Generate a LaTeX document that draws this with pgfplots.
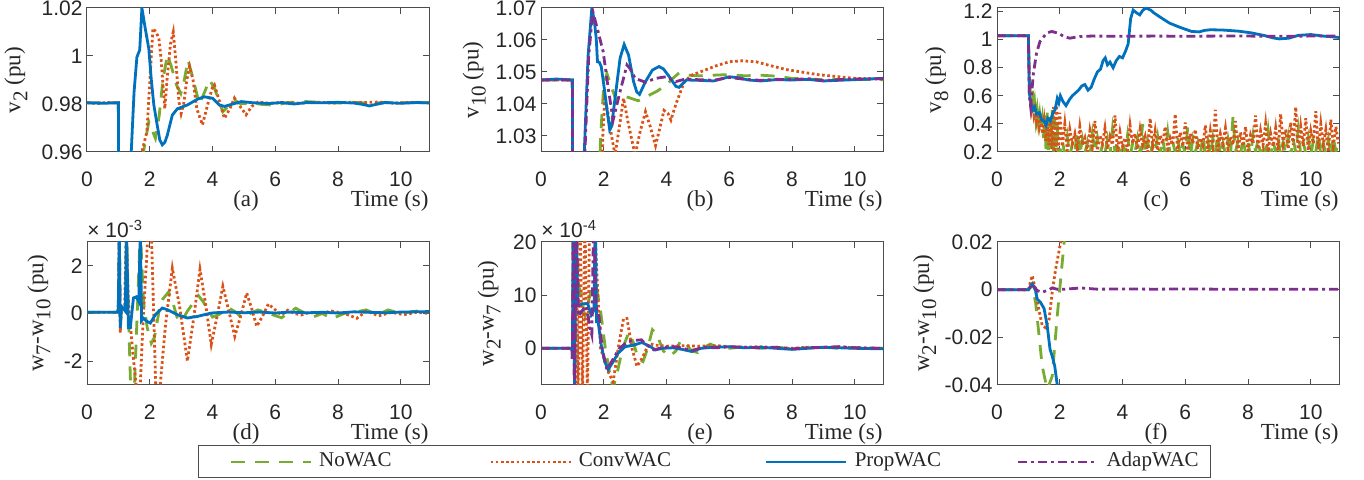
\documentclass[border=0pt]{standalone}
\usepackage{fontspec}
\setmainfont{Liberation Serif}
\newfontfamily\ticksf{Liberation Sans}
\usepackage{pgfplots}
\pgfplotsset{compat=1.18}

\definecolor{mblue}{rgb}{0,0.447,0.741}
\definecolor{morange}{rgb}{0.85,0.325,0.098}
\definecolor{mgreen}{rgb}{0.466,0.674,0.188}
\definecolor{mpurple}{rgb}{0.494,0.184,0.556}
\definecolor{axgray}{rgb}{0.15,0.15,0.15}

\newcommand{\tickfont}{\ticksf\fontsize{10.5}{12}\selectfont}
\newcommand{\labfont}{\fontsize{11.5}{13}\selectfont}
\newcommand{\sub}[1]{\raisebox{-3.5pt}{\fontsize{10.5}{11}\selectfont #1}}

\pgfplotsset{
  panel/.style={
    scale only axis, width=171pt, height=72pt,
    xmin=0, xmax=10.9, xtick={0,2,...,10},
    axis line style={black!70, line width=0.5pt},
    tick style={black!70, line width=0.5pt},
    major tick length=3pt, tick align=inside,
    scaled ticks=false, clip mode=individual,
    tick label style={font=\tickfont, text=axgray, /pgf/number format/assume math mode=true},
    xticklabel style={anchor=base, yshift=-17.5pt, inner sep=0pt},
    yticklabel style={anchor=east, inner sep=0pt, xshift=-2pt,
      /pgf/number format/fixed, /pgf/number format/precision=2},
    label style={font=\labfont, text=axgray},
    xlabel={Time (s)},
    xlabel style={at={(axis description cs:1,0)}, anchor=base east, yshift=-27.5pt, inner sep=0pt},
  },
  ylpos/.style={ylabel style={at={(axis description cs:#1,0.5)}, anchor=center, inner sep=0pt}},
  nowac/.style={mgreen, line width=1.4pt, dash pattern=on 7pt off 5pt},
  convwac/.style={morange, line width=1.4pt, dash pattern=on 1.3pt off 1.3pt},
  propwac/.style={mblue, line width=1.4pt},
  adapwac/.style={mpurple, line width=1.4pt, dash pattern=on 4.5pt off 2pt on 1.5pt off 2pt},
}
\newcommand{\sublabel}[1]{\node[font=\labfont, text=axgray, anchor=base, inner sep=0pt, yshift=-27.5pt] at (axis description cs:0.465,0) {#1};}
\newcommand{\scalelabel}[1]{\node[font=\tickfont, text=axgray, anchor=base west, inner sep=0pt, yshift=2pt] at (axis description cs:0,1) {× 10\textsuperscript{#1}};}

\begin{document}
\begin{tikzpicture}
\useasboundingbox (0,0) rectangle (682pt,240pt);

% (a)
\begin{axis}[panel, at={(43.5pt,164pt)}, anchor=south west,
  ymin=0.96, ymax=1.02, ytick={0.96,0.98,1,1.02},
  ylabel={v\sub{2} (pu)}, ylpos=-0.208]
\addplot[nowac] coordinates {(0,0.9805)(1.0,0.9805)(1.01,0.93)(1.7,0.93)(1.8,0.96)(1.97,0.9726)(2.08,0.969)(2.18,0.9657)(2.3,0.975)(2.42,0.99)(2.56,1.0004)(2.68,0.996)(2.85,0.988)(2.99,0.9844)(3.1,0.99)(3.22,0.9983)(3.35,0.992)(3.58,0.980)(3.75,0.985)(3.9,0.990)(4.05,0.987)(4.33,0.9768)(4.5,0.979)(4.7,0.9817)(4.9,0.980)(5.2,0.9805)(5.6,0.9798)(6.0,0.9795)(6.4,0.9806)(7.0,0.9810)(7.5,0.9806)(8.0,0.9804)(8.5,0.9807)(9.0,0.9803)(9.5,0.9806)(10,0.9805)(10.9,0.9805)};
\addplot[convwac] coordinates {(0,0.9805)(0.3,0.9802)(0.6,0.9806)(1.0,0.9805)(1.01,0.93)(1.6,0.93)(1.75,0.96)(1.91,0.9685)(2.02,0.9935)(2.1,1.0115)(2.2,1.010)(2.29,1.0074)(2.36,0.999)(2.43,0.9865)(2.48,0.978)(2.55,0.99)(2.66,1.005)(2.75,1.010)(2.83,0.998)(2.93,0.981)(3.0,0.976)(3.08,0.98)(3.18,0.99)(3.27,0.9956)(3.38,0.99)(3.5,0.978)(3.68,0.9713)(3.85,0.98)(4.0,0.987)(4.06,0.988)(4.2,0.982)(4.38,0.974)(4.55,0.978)(4.7,0.9825)(4.88,0.979)(5.07,0.9755)(5.25,0.979)(5.45,0.9808)(5.8,0.9803)(6.3,0.9806)(6.8,0.9803)(7.3,0.9808)(7.8,0.9804)(8.3,0.9807)(8.8,0.9806)(9.3,0.9808)(9.8,0.9803)(10.3,0.9807)(10.9,0.9804)};
\addplot[propwac] coordinates {(0,0.9805)(0.5,0.9803)(1.0,0.9805)(1.01,0.93)(1.3,0.93)(1.41,0.96)(1.5,0.985)(1.59,0.9995)(1.68,1.0025)(1.75,1.02)(1.85,1.012)(1.97,1.003)(2.05,0.99)(2.13,0.9796)(2.24,0.971)(2.32,0.965)(2.4,0.963)(2.48,0.964)(2.56,0.967)(2.72,0.9754)(2.88,0.978)(3.2,0.9796)(3.52,0.982)(3.74,0.983)(4.0,0.9824)(4.22,0.9796)(4.38,0.979)(4.65,0.980)(4.92,0.981)(5.3,0.9805)(5.8,0.9802)(6.2,0.9806)(6.6,0.98)(7.0,0.9806)(7.5,0.9805)(8.0,0.9807)(8.5,0.9804)(8.8,0.9798)(9.0,0.9792)(9.2,0.9798)(9.5,0.9806)(10,0.9803)(10.5,0.9806)(10.9,0.9805)};
\sublabel{(a)}
\end{axis}

% (b)
\begin{axis}[panel, at={(270.5pt,164pt)}, anchor=south west,
  ymin=1.025, ymax=1.07, ytick={1.03,1.04,1.05,1.06,1.07},
  ylabel={v\sub{10} (pu)}, ylpos=-0.195]
\addplot[nowac] coordinates {(0,1.0475)(1.0,1.0475)(1.01,1.0)(1.8,1.0)(1.9,1.03)(2.0,1.046)(2.1,1.0495)(2.22,1.046)(2.4,1.041)(2.6,1.0425)(2.8,1.042)(3.1,1.041)(3.4,1.0425)(3.7,1.044)(4.0,1.046)(4.2,1.048)(4.4,1.0497)(4.7,1.049)(5.0,1.0488)(5.5,1.049)(6.0,1.0492)(6.5,1.0488)(7.0,1.049)(7.5,1.0487)(8.0,1.048)(8.5,1.0478)(9,1.0476)(10,1.0477)(10.9,1.0476)};
\addplot[convwac] coordinates {(0,1.0475)(1.0,1.0475)(1.01,1.0)(1.9,1.0)(1.97,1.03)(2.03,1.0418)(2.12,1.038)(2.25,1.03)(2.36,1.024)(2.5,1.033)(2.63,1.0418)(2.78,1.034)(3.0,1.024)(3.15,1.031)(3.33,1.0376)(3.48,1.033)(3.65,1.027)(3.8,1.033)(3.92,1.038)(4.05,1.037)(4.14,1.035)(4.3,1.04)(4.57,1.047)(4.8,1.049)(5.2,1.0505)(5.6,1.052)(6.0,1.0532)(6.4,1.0535)(6.85,1.0532)(7.3,1.052)(7.8,1.0508)(8.3,1.050)(8.8,1.0492)(9.5,1.0485)(10,1.048)(10.9,1.0478)};
\addplot[propwac] coordinates {(0,1.0475)(0.5,1.0478)(1.0,1.0475)(1.01,1.0)(1.3,1.0)(1.38,1.025)(1.5,1.055)(1.62,1.07)(1.7,1.066)(1.76,1.0605)(1.8,1.0532)(1.86,1.053)(1.92,1.0517)(2.03,1.0439)(2.14,1.0355)(2.19,1.0319)(2.25,1.033)(2.36,1.0418)(2.52,1.0543)(2.65,1.0586)(2.79,1.0553)(2.95,1.047)(3.05,1.0438)(3.14,1.043)(3.33,1.047)(3.55,1.0506)(3.76,1.0517)(3.9,1.051)(4.09,1.0485)(4.3,1.0455)(4.4,1.0452)(4.63,1.0475)(5.0,1.0474)(5.5,1.0472)(6.0,1.0485)(6.3,1.0482)(6.6,1.0475)(7.0,1.0472)(7.5,1.0476)(8.0,1.0475)(8.5,1.0477)(9.0,1.0472)(9.5,1.0474)(10,1.0476)(10.9,1.048)};
\addplot[adapwac] coordinates {(0,1.0475)(1.0,1.0475)(1.01,1.0)(1.32,1.0)(1.4,1.025)(1.52,1.055)(1.65,1.0689)(1.82,1.0626)(1.98,1.0564)(2.14,1.045)(2.3,1.035)(2.52,1.0439)(2.74,1.0522)(2.84,1.051)(3.0,1.048)(3.33,1.0468)(3.65,1.048)(3.98,1.0485)(4.3,1.047)(4.6,1.0478)(5,1.0476)(5.5,1.0474)(6,1.0483)(6.5,1.0477)(7,1.0474)(7.5,1.0477)(8,1.0476)(8.5,1.0479)(9,1.0473)(9.5,1.0476)(10,1.0478)(10.9,1.0479)};
\sublabel{(b)}
\end{axis}

% (c)
\begin{axis}[panel, at={(498.5pt,164pt)}, anchor=south west,
  ymin=0.2, ymax=1.225, ytick={0.2,0.4,0.6,0.8,1,1.2},
  ylabel={v\sub{8} (pu)}, ylpos=-0.176]
\addplot[nowac] coordinates {(0,1.027)(1.0,1.027)(1.03,0.75)(1.06,0.6)(1.1,0.52)(1.13,0.64)(1.16,0.48)(1.2,0.55)(1.24,0.43)(1.28,0.5)(1.32,0.4)(1.36,0.47)(1.4,0.38)(1.44,0.44)(1.48,0.3)(1.52,0.46)(1.56,0.22)(1.6,0.48)(1.64,0.2)(1.68,0.45)(1.72,0.22)(1.76,0.5)(1.8,0.19)(1.84,0.44)(1.88,0.2)(1.92,0.4)(1.96,0.18)
(2.00,0.18)(2.08,0.28)(2.16,0.19)(2.24,0.31)(2.32,0.17)(2.40,0.26)(2.48,0.2)(2.56,0.35)(2.64,0.18)(2.72,0.29)(2.80,0.19)(2.88,0.27)(2.96,0.17)(3.04,0.33)(3.12,0.2)(3.20,0.30)(3.28,0.18)(3.36,0.25)(3.44,0.19)(3.52,0.29)(3.60,0.17)(3.68,0.36)(3.76,0.2)(3.84,0.28)(3.92,0.18)(4.00,0.27)(4.08,0.19)(4.16,0.32)(4.24,0.17)(4.32,0.26)(4.40,0.2)(4.48,0.30)(4.56,0.18)(4.64,0.40)(4.72,0.19)(4.80,0.28)(4.88,0.17)(4.96,0.26)(5.04,0.2)(5.12,0.31)(5.20,0.18)(5.28,0.29)(5.36,0.19)(5.44,0.34)(5.52,0.17)(5.60,0.27)(5.68,0.2)(5.76,0.30)(5.84,0.18)(5.92,0.25)(6.00,0.19)(6.08,0.38)(6.16,0.17)(6.24,0.29)(6.32,0.2)(6.40,0.27)(6.48,0.18)(6.56,0.31)(6.64,0.19)(6.72,0.28)(6.80,0.17)(6.88,0.30)(6.96,0.2)(7.04,0.33)(7.12,0.18)(7.20,0.26)(7.28,0.19)(7.36,0.29)(7.44,0.17)(7.52,0.45)(7.60,0.2)(7.68,0.28)(7.76,0.18)(7.84,0.30)(7.92,0.19)(8.00,0.27)(8.08,0.17)(8.16,0.32)(8.24,0.2)(8.32,0.29)(8.40,0.18)(8.48,0.26)(8.56,0.19)(8.64,0.35)(8.72,0.17)(8.80,0.28)(8.88,0.2)(8.96,0.30)(9.04,0.18)(9.12,0.27)(9.20,0.19)(9.28,0.31)(9.36,0.17)(9.44,0.29)(9.52,0.2)(9.60,0.36)(9.68,0.18)(9.76,0.27)(9.84,0.19)(9.92,0.30)(10.00,0.17)(10.08,0.28)(10.16,0.2)(10.24,0.33)(10.32,0.18)(10.40,0.26)(10.48,0.19)(10.56,0.29)(10.64,0.17)(10.72,0.31)(10.80,0.2)(10.88,0.28)};
\addplot[convwac] coordinates {(0,1.027)(1.0,1.027)(1.03,0.75)(1.06,0.58)(1.1,0.5)(1.14,0.55)(1.18,0.46)(1.22,0.5)(1.26,0.42)(1.3,0.47)(1.35,0.38)(1.4,0.44)(1.45,0.33)(1.5,0.42)(1.55,0.28)(1.6,0.4)(1.65,0.25)(1.7,0.45)(1.75,0.22)(1.8,0.52)(1.85,0.2)(1.9,0.55)(1.95,0.22)
(2.00,0.48)(2.08,0.24)(2.16,0.40)(2.24,0.21)(2.32,0.36)(2.40,0.26)(2.48,0.33)(2.56,0.22)(2.64,0.38)(2.72,0.25)(2.80,0.30)(2.88,0.2)(2.96,0.35)(3.04,0.24)(3.12,0.42)(3.20,0.21)(3.28,0.32)(3.36,0.26)(3.44,0.37)(3.52,0.22)(3.60,0.31)(3.68,0.25)(3.76,0.46)(3.84,0.2)(3.92,0.34)(4.00,0.24)(4.08,0.30)(4.16,0.21)(4.24,0.39)(4.32,0.26)(4.40,0.33)(4.48,0.22)(4.56,0.36)(4.64,0.25)(4.72,0.31)(4.80,0.2)(4.88,0.44)(4.96,0.24)(5.04,0.35)(5.12,0.21)(5.20,0.32)(5.28,0.26)(5.36,0.38)(5.44,0.22)(5.52,0.30)(5.60,0.25)(5.68,0.47)(5.76,0.2)(5.84,0.34)(5.92,0.24)(6.00,0.41)(6.08,0.21)(6.16,0.33)(6.24,0.26)(6.32,0.36)(6.40,0.22)(6.48,0.30)(6.56,0.25)(6.64,0.39)(6.72,0.2)(6.80,0.35)(6.88,0.24)(6.96,0.50)(7.04,0.21)(7.12,0.33)(7.20,0.26)(7.28,0.37)(7.36,0.22)(7.44,0.31)(7.52,0.25)(7.60,0.42)(7.68,0.2)(7.76,0.34)(7.84,0.24)(7.92,0.38)(8.00,0.21)(8.08,0.32)(8.16,0.26)(8.24,0.46)(8.32,0.22)(8.40,0.35)(8.48,0.25)(8.56,0.40)(8.64,0.2)(8.72,0.33)(8.80,0.24)(8.88,0.37)(8.96,0.21)(9.04,0.47)(9.12,0.26)(9.20,0.36)(9.28,0.22)(9.36,0.41)(9.44,0.25)(9.52,0.52)(9.60,0.2)(9.68,0.38)(9.76,0.24)(9.84,0.44)(9.92,0.21)(10.00,0.35)(10.08,0.26)(10.16,0.49)(10.24,0.22)(10.32,0.40)(10.40,0.25)(10.48,0.36)(10.56,0.2)(10.64,0.43)(10.72,0.24)(10.80,0.38)(10.88,0.26)};
\addplot[propwac] coordinates {(0,1.027)(1.0,1.027)(1.03,0.62)(1.08,0.55)(1.14,0.5)(1.2,0.52)(1.26,0.47)(1.35,0.48)(1.42,0.43)(1.5,0.42)(1.56,0.39)(1.62,0.44)(1.7,0.42)(1.78,0.48)(1.85,0.5)(1.92,0.58)(1.97,0.55)(2.02,0.6)(2.1,0.56)(2.2,0.53)(2.3,0.57)(2.4,0.6)(2.5,0.62)(2.6,0.64)(2.7,0.67)(2.8,0.68)(2.9,0.64)(3.0,0.66)(3.1,0.72)(3.2,0.77)(3.3,0.79)(3.38,0.85)(3.45,0.87)(3.52,0.82)(3.6,0.84)(3.7,0.8)(3.8,0.85)(3.9,0.88)(4.0,0.87)(4.1,0.92)(4.18,0.97)(4.26,1.15)(4.34,1.21)(4.45,1.19)(4.55,1.176)(4.65,1.21)(4.75,1.224)(4.9,1.21)(5.0,1.19)(5.2,1.16)(5.5,1.117)(5.8,1.09)(6.2,1.058)(6.45,1.055)(6.6,1.065)(6.8,1.07)(7.2,1.068)(7.7,1.06)(8.1,1.048)(8.5,1.03)(8.8,1.012)(9.0,1.005)(9.3,1.01)(9.6,1.03)(10.0,1.036)(10.4,1.025)(10.9,1.015)};
\addplot[adapwac] coordinates {(0,1.027)(1.0,1.027)(1.03,0.6)(1.07,0.525)(1.16,0.76)(1.26,0.904)(1.37,0.987)(1.58,1.046)(1.74,1.058)(1.95,1.046)(2.15,1.02)(2.32,1.01)(2.64,1.022)(3.0,1.025)(4,1.024)(5,1.025)(6,1.024)(7,1.025)(8,1.025)(9,1.024)(10,1.025)(10.9,1.025)};
\sublabel{(c)}
\end{axis}

% (d)
\begin{axis}[panel, at={(43.5pt,47.5pt)}, anchor=south west, height=71.5pt,
  ymin=-3, ymax=3, ytick={-2,0,2},
  ylabel={w\sub{7}-w\sub{10} (pu)}, ylpos=-0.140]
\addplot[nowac] coordinates {(0,0.05)(0.99,0.05)(1.0,0.5)(1.03,3.5)(1.06,-0.6)(1.1,0.3)(1.22,0.1)(1.26,3.5)(1.32,0)(1.4,-3.5)(1.5,-3.5)(1.6,0)(1.7,3.5)(1.8,0.5)(1.92,-0.6)(2.05,-1.25)(2.15,-1.0)(2.35,0.5)(2.6,0.9)(2.75,0.4)(2.9,-0.3)(3.05,-0.25)(3.2,0.1)(3.55,0.75)(3.7,0.5)(4.0,-0.15)(4.2,-0.05)(4.5,0.25)(4.75,0.05)(4.95,-0.2)(5.2,0.0)(5.45,0.15)(5.8,0.0)(6.2,-0.18)(6.65,0.22)(7.2,-0.15)(7.5,0.0)(7.8,-0.22)(8.2,0.0)(8.5,0.05)(8.9,0.15)(9.25,-0.05)(9.6,0.15)(10,0.0)(10.5,0.1)(10.9,0.05)};
\addplot[convwac] coordinates {(0,0.05)(0.99,0.05)(1.0,0.5)(1.03,3.5)(1.06,-0.8)(1.1,0.2)(1.2,0.3)(1.25,3.5)(1.32,0.5)(1.45,-1.5)(1.6,-3.5)(1.68,-3.5)(1.8,0)(1.95,3.5)(2.05,3.5)(2.2,-3.5)(2.3,-3.5)(2.5,-0.5)(2.72,1.9)(2.95,0.3)(3.2,-2.0)(3.4,-0.2)(3.6,1.85)(3.78,0.4)(3.96,-1.3)(4.15,-0.1)(4.33,1.14)(4.52,0.1)(4.71,-0.96)(4.9,-0.1)(5.09,0.86)(5.25,0.2)(5.41,-0.54)(5.6,-0.1)(5.78,0.4)(6.0,0.15)(6.2,-0.06)(6.4,0.14)(6.6,0.0)(6.84,-0.06)(7.1,0.05)(7.4,0.0)(7.8,0.1)(8.2,0.0)(8.6,-0.2)(8.9,0.1)(9.3,-0.1)(9.7,0.05)(10.1,-0.05)(10.5,0.05)(10.9,0.0)};
\addplot[propwac] coordinates {(0,0.05)(0.99,0.05)(1.0,0.5)(1.03,3.5)(1.06,-0.6)(1.1,0.3)(1.22,0.1)(1.26,3.5)(1.32,-0.6)(1.38,-0.6)(1.48,0.65)(1.57,0.7)(1.65,0.5)(1.7,3.5)(1.74,-0.3)(1.8,-0.2)(1.91,-0.33)(2.02,-0.4)(2.18,-0.05)(2.4,0.23)(2.56,0.16)(2.88,-0.05)(3.2,-0.19)(3.53,-0.12)(3.96,0.02)(4.5,0.06)(5,0.03)(5.5,0.06)(6,0.02)(6.5,0.06)(7,0.03)(7.5,0.05)(8,0.02)(8.5,0.07)(9,0.05)(9.5,0.03)(10,0.06)(10.9,0.08)};
\sublabel{(d)}
\scalelabel{-3}
\end{axis}

% (e)
\begin{axis}[panel, at={(270.5pt,47.5pt)}, anchor=south west, height=71.5pt,
  ymin=-6.9, ymax=20, ytick={0,10,20},
  ylabel={w\sub{2}-w\sub{7} (pu)}, ylpos=-0.152,
  legend columns=4,
  legend style={at={(0.478,-0.538)}, anchor=center, draw=black!70, line width=0.5pt,
    inner xsep=15.5pt, inner ysep=3pt, column sep=0pt,
    nodes={inner sep=0pt, text height=7.5pt, text depth=2.5pt},
    font=\fontsize{10.5}{12}\selectfont, text=axgray},
  legend image code/.code={\draw[#1] (0pt,0pt) -- (40pt,0pt);}]
\addplot[nowac] coordinates {(0,0)(0.99,0)(1.0,-2)(1.03,25)(1.07,-10)(1.12,25)(1.2,12)(1.4,6)(1.6,11)(1.75,12)(1.9,7)(2.05,0)(2.2,-5)(2.3,-7.5)(2.45,-4)(2.6,0)(2.8,3)(2.95,1)(3.1,-2)(3.25,-2.5)(3.4,0)(3.55,3.5)(3.7,2.5)(3.9,-0.5)(4.1,-1.5)(4.3,-0.5)(4.45,1.5)(4.6,1)(4.8,-0.5)(5.0,-0.8)(5.2,0.2)(5.4,0.8)(5.6,0.2)(6,0)(6.5,0.3)(7,0)(7.5,0.2)(8,-0.1)(8.5,0.1)(9,0.2)(9.5,0)(10,0.1)(10.9,0)};
\addlegendentry{\hspace{3.5pt}\makebox[85pt][l]{NoWAC}}
\addplot[convwac] coordinates {(0,0)(0.99,0)(1.0,-2)(1.03,25)(1.07,-10)(1.12,25)(1.18,-10)(1.25,25)(1.32,-10)(1.4,25)(1.48,-10)(1.55,25)(1.7,25)(1.8,12)(1.9,0)(2.14,-4.4)(2.3,-6.3)(2.46,0)(2.63,5.6)(2.74,5.6)(2.9,0)(3.06,-3.4)(3.22,-1.9)(3.44,0.9)(3.65,0.6)(4,0.4)(4.5,0.5)(5,0.4)(5.6,0.5)(6,0.3)(6.5,0.2)(7,0.3)(7.5,0.1)(8,0.0)(8.5,0.2)(9,0.1)(9.5,0.3)(10,0.1)(10.9,0)};
\addlegendentry{\hspace{3.5pt}\makebox[93pt][l]{ConvWAC}}
\addplot[propwac] coordinates {(0,0)(0.99,0)(1.0,-2)(1.03,25)(1.07,-10)(1.12,25)(1.17,8)(1.33,8.4)(1.49,8.4)(1.6,6.25)(1.69,7.2)(1.73,25)(1.77,5)(1.82,5)(1.92,0.6)(2.03,-2.5)(2.14,-4)(2.3,-2.5)(2.46,-0.9)(2.68,0.3)(2.95,0.6)(3.22,1.1)(3.49,0.3)(3.65,-0.3)(3.87,0)(4.2,0.1)(4.5,-0.2)(4.8,-0.6)(5.1,0)(5.5,0.2)(6,0.3)(6.5,0.1)(7,0.2)(7.5,0.0)(8,-0.2)(8.5,0)(9,0.2)(9.5,0.1)(10,0)(10.9,-0.1)};
\addlegendentry{\hspace{3.5pt}\makebox[81pt][l]{PropWAC}}
\addplot[adapwac] coordinates {(0,0)(0.99,0)(1.0,-2)(1.03,25)(1.07,-10)(1.12,25)(1.2,6)(1.3,7)(1.45,8)(1.55,4)(1.62,2.5)(1.68,25)(1.75,8)(1.85,6)(1.95,0)(2.1,-4)(2.3,-2)(2.5,0)(2.75,1.2)(3.0,1.5)(3.2,1.6)(3.4,0.5)(3.6,-0.3)(3.9,0.2)(4.3,0.3)(4.8,-0.4)(5.2,0.2)(5.6,0.1)(6,0.3)(6.5,0.2)(7,0.1)(7.5,0.2)(8,-0.1)(8.5,0.1)(9,0.2)(9.5,0.3)(10,0.1)(10.9,0)};
\addlegendentry{\hspace{3.5pt}\makebox[36.5pt][l]{AdapWAC}}
\sublabel{(e)}
\scalelabel{-4}
\end{axis}

% (f)
\begin{axis}[panel, at={(498.5pt,47.5pt)}, anchor=south west, height=71.5pt,
  ymin=-0.04, ymax=0.02, ytick={-0.04,-0.02,0,0.02},
  ylabel={w\sub{2}-w\sub{10} (pu)}, ylpos=-0.211]
\addplot[nowac] coordinates {(0,0)(1.0,0)(1.12,0.0015)(1.23,-0.0054)(1.33,-0.018)(1.44,-0.032)(1.6,-0.042)(1.76,-0.0363)(1.92,-0.011)(2.03,0.0045)(2.14,0.02)(2.2,0.028)};
\addplot[convwac] coordinates {(0,0)(1.0,0)(1.12,0.0059)(1.23,0)(1.33,-0.0082)(1.44,-0.015)(1.55,-0.016)(1.66,-0.0124)(1.76,-0.001)(1.87,0.0087)(2.03,0.02)(2.1,0.027)};
\addplot[propwac] coordinates {(0,0)(1.0,0)(1.12,0.0024)(1.23,-0.0004)(1.28,-0.004)(1.39,-0.0054)(1.5,-0.0079)(1.6,-0.0152)(1.69,-0.025)(1.76,-0.0279)(1.84,-0.0321)(1.92,-0.04)(2.0,-0.047)};
\addplot[adapwac] coordinates {(0,0)(1.0,0)(1.12,0.0024)(1.28,-0.0004)(1.44,-0.0011)(1.66,0)(1.76,0.0007)(1.98,0)(2.25,0.0003)(2.68,0.0007)(3.2,0.0002)(4,0.0003)(5,0.0002)(6,0.0003)(7,0.0002)(8,0.0002)(9,0.0002)(10,0.0002)(10.9,0.0002)};
\sublabel{(f)}
\end{axis}
\end{tikzpicture}
\end{document}
